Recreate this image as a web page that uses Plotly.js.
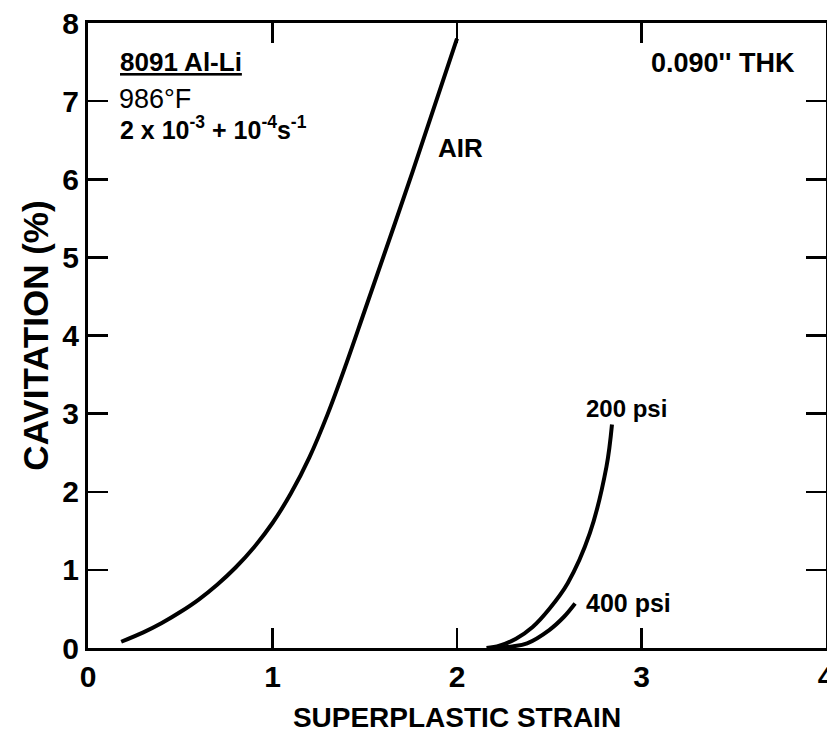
<!DOCTYPE html>
<html>
<head>
<meta charset="utf-8">
<script src="https://cdn.plot.ly/plotly-3.0.1.min.js"></script>
<style>html,body{margin:0;padding:0;background:#fff;}#chart{width:827px;height:737px;}</style>
</head>
<body>
<div id="chart"></div>
<script>
// Data
const airStrain = [0.18, 0.30, 0.40, 0.50, 0.60, 0.70, 0.80, 0.90, 1.00, 1.10, 1.20, 1.30, 1.40, 1.50, 1.76, 2.00];
const airCavitation = [0.08, 0.20, 0.32, 0.46, 0.62, 0.81, 1.03, 1.29, 1.60, 1.98, 2.44, 3.00, 3.64, 4.32, 6.10, 7.80];

const psi200Strain = [2.16, 2.23, 2.32, 2.41, 2.50, 2.60, 2.72, 2.81, 2.84];
const psi200Cavitation = [0.00, 0.03, 0.12, 0.27, 0.50, 0.83, 1.47, 2.32, 2.86];

const psi400Strain = [2.20, 2.30, 2.38, 2.50, 2.58, 2.64];
const psi400Cavitation = [0.00, 0.02, 0.06, 0.23, 0.40, 0.57];

const xTicks = [0, 1, 2, 3, 4];
const yTicks = [0, 1, 2, 3, 4, 5, 6, 7, 8];

const FONT = '"Liberation Sans", Arial, Helvetica, sans-serif';
const lineStyle = {color: '#000', width: 4, shape: 'spline', smoothing: 1};

const traces = [
  {x: airStrain, y: airCavitation, mode: 'lines', line: lineStyle, name: 'AIR'},
  {x: psi200Strain, y: psi200Cavitation, mode: 'lines', line: lineStyle, name: '200 psi'},
  {x: psi400Strain, y: psi400Cavitation, mode: 'lines', line: lineStyle, name: '400 psi'}
];

const axisCommon = {
  showgrid: false, zeroline: false, showline: true, linecolor: '#000', linewidth: 3,
  mirror: 'ticks', ticks: 'inside', ticklen: 20, tickwidth: 2.5, tickcolor: '#000',
  ticklabeloverflow: 'allow',
  tickfont: {family: FONT, size: 30, color: '#000', weight: 'bold'}
};

const layout = {
  width: 827, height: 737,
  margin: {l: 88, r: 1, t: 23, b: 89},
  paper_bgcolor: '#fff', plot_bgcolor: '#fff',
  showlegend: false,
  font: {family: FONT, color: '#000'},
  xaxis: Object.assign({}, axisCommon, {
    range: [0, 4], tickvals: xTicks, ticktext: xTicks.map(String),
    title: {text: '<b>SUPERPLASTIC STRAIN</b>', font: {family: FONT, size: 28, color: '#000'}, standoff: 16}
  }),
  yaxis: Object.assign({}, axisCommon, {
    range: [0, 8], tickvals: yTicks, ticktext: yTicks.map(String),
    title: {text: '<b>CAVITATION (%)</b>', font: {family: FONT, size: 35, color: '#000'}, standoff: 4}
  }),
  annotations: [
    {x: 0.163, y: 7.50, xref: 'x', yref: 'y', xanchor: 'left', yanchor: 'middle', showarrow: false,
     text: '<b><u>8091 Al-Li</u></b>', font: {family: FONT, size: 26, color: '#000'}},
    {x: 0.155, y: 7.03, xref: 'x', yref: 'y', xanchor: 'left', yanchor: 'middle', showarrow: false,
     text: '986°F', font: {family: FONT, size: 27, color: '#000'}},
    {x: 0.163, y: 6.66, xref: 'x', yref: 'y', xanchor: 'left', yanchor: 'middle', showarrow: false,
     text: '<b>2 x 10<sup>-3</sup> + 10<sup>-4</sup>s<sup>-1</sup></b>', font: {family: FONT, size: 25, color: '#000'}},
    {x: 3.44, y: 7.49, xref: 'x', yref: 'y', xanchor: 'center', yanchor: 'middle', showarrow: false,
     text: '<b>0.090\'\' THK</b>', font: {family: FONT, size: 27, color: '#000'}},
    {x: 2.02, y: 6.40, xref: 'x', yref: 'y', xanchor: 'center', yanchor: 'middle', showarrow: false,
     text: '<b>AIR</b>', font: {family: FONT, size: 26, color: '#000'}},
    {x: 2.92, y: 3.07, xref: 'x', yref: 'y', xanchor: 'center', yanchor: 'middle', showarrow: false,
     text: '<b>200 psi</b>', font: {family: FONT, size: 24, color: '#000'}},
    {x: 2.93, y: 0.57, xref: 'x', yref: 'y', xanchor: 'center', yanchor: 'middle', showarrow: false,
     text: '<b>400 psi</b>', font: {family: FONT, size: 25, color: '#000'}}
  ]
};

Plotly.newPlot('chart', traces, layout, {displayModeBar: false, staticPlot: true});
</script>
</body>
</html>
